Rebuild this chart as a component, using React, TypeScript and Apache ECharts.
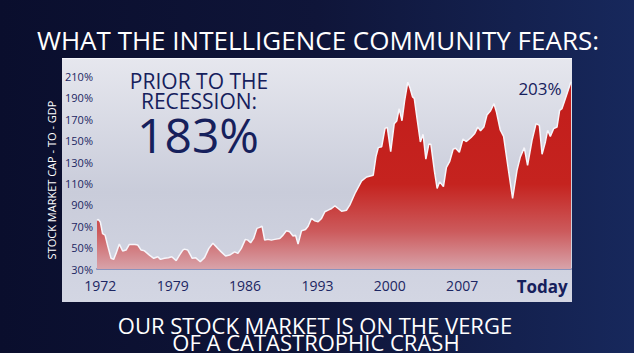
import React, { useEffect, useRef } from "react";
import * as echarts from "echarts";

const years = [
  1971.68, 1971.81, 1972.0, 1972.22, 1972.46, 1972.71, 1973.04, 1973.29, 1973.52, 1973.84,
  1974.16, 1974.49, 1974.81, 1975.36, 1975.62, 1975.95, 1976.27, 1976.75, 1977.17, 1977.56,
  1977.82, 1978.21, 1978.59, 1978.91, 1979.34, 1979.66, 1979.98, 1980.14, 1980.46, 1980.89,
  1981.21, 1981.67, 1982.08, 1982.5, 1982.89, 1983.28, 1983.7, 1984.12, 1984.51, 1984.99,
  1985.31, 1985.64, 1986.03, 1986.28, 1986.54, 1986.83, 1987.15, 1987.42, 1987.64, 1987.9,
  1988.22, 1988.55, 1988.87, 1989.36, 1989.68, 1990.0, 1990.32, 1990.64, 1990.88, 1991.13,
  1991.46, 1991.85, 1992.1, 1992.43, 1992.75, 1993.07, 1993.4, 1993.72, 1994.04, 1994.37,
  1994.69, 1995.01, 1995.34, 1995.82, 1996.14, 1996.63, 1997.28, 1997.76, 1998.4, 1998.66,
  1998.89, 1999.22, 1999.54, 1999.76, 2000.09, 2000.43, 2000.67, 2000.91, 2001.18, 2001.43,
  2001.74, 2001.96, 2002.2, 2002.37, 2002.64, 2002.96, 2003.22, 2003.49, 2003.78, 2003.98,
  2004.32, 2004.58, 2004.83, 2005.19, 2005.48, 2005.8, 2006.13, 2006.37, 2006.73, 2007.08,
  2007.41, 2007.86, 2008.22, 2008.51, 2008.78, 2009.1, 2009.4, 2009.75, 2010.08, 2010.32,
  2010.69, 2011.01, 2011.34, 2011.88, 2012.31, 2012.63, 2013.01, 2013.33, 2013.76, 2014.15,
  2014.47, 2014.73, 2015.05, 2015.27, 2015.53, 2015.85, 2016.18, 2016.43, 2016.66, 2016.98,
  2017.53,
];

const values = [
  75.7, 76.4, 74, 63, 61.7, 52, 40, 39, 44.6, 53.3,
  46.8, 47.7, 53, 53, 52.4, 47.7, 47, 43, 40, 41.5,
  39, 40, 40.6, 41.5, 37.8, 43, 47.7, 48.6, 47.7, 40,
  40.6, 36.8, 40.6, 49.3, 54, 50.2, 46, 42.1, 43, 46,
  44.6, 49.3, 57.7, 57, 54.5, 58.6, 68, 68.9, 70, 57,
  57.7, 57, 57.7, 58.6, 61.7, 65.7, 64.8, 60.8, 61.7, 53.3,
  65.7, 67, 70, 77.3, 75, 74.1, 77.3, 83.5, 85, 86.6,
  89, 86.6, 84, 85, 90, 100.6, 112.4, 116, 117.7, 134.8,
  143.5, 144.4, 161.5, 162.4, 139.8, 165.9, 168.3, 180, 168.6, 187,
  204.7, 199.3, 191, 189.6, 170.5, 148.8, 156, 132.8, 146.8, 146.6,
  121.6, 105.3, 111.5, 107, 125, 130.6, 142, 143, 139.2, 151.5,
  149.2, 153, 156.8, 162.7, 159.3, 162.7, 174, 178, 184.6, 176.7,
  160, 154, 131.7, 96, 122.4, 134.8, 143.5, 127, 150.3, 166,
  164.3, 137.3, 148.8, 159.7, 154, 161.2, 162.8, 178.3, 180, 189.2,
  205,
];

const xTickValues = [1972, 1979, 1986, 1993, 2000, 2007, 2014.75];
const yTickValues = [30, 50, 70, 90, 110, 130, 150, 170, 190, 210];

const titleText = "WHAT THE INTELLIGENCE COMMUNITY FEARS:";
const yAxisTitle = "STOCK MARKET CAP - TO - GDP";
const calloutLines = ["PRIOR TO THE", "RECESSION:"];
const calloutValue = "183%";
const latestLabel = "203%";
const bottomLines = ["OUR STOCK MARKET IS ON THE VERGE", "OF A CATASTROPHIC CRASH"];

const FONT = "'Open Sans', 'Noto Sans', sans-serif";
const NAVY = "#16205c";

export default function App() {
  const ref = useRef<HTMLDivElement>(null);

  useEffect(() => {
    document.body.style.margin = "0";
    const chart = echarts.init(ref.current!, null, { renderer: "svg" });
    const data = years.map((y, i) => [y, values[i]]);

    const centered = (x: number, y: number, text: string, font: string, fill: string) => ({
      type: "text",
      x,
      y,
      style: { text, fill, font, textAlign: "center", textVerticalAlign: "middle" },
    });

    chart.setOption({
      animation: false,
      backgroundColor: new echarts.graphic.LinearGradient(0, 0, 1, 0, [
        { offset: 0, color: "#0a0e2d" },
        { offset: 0.5, color: "#0f1539" },
        { offset: 1, color: "#17285c" },
      ]),
      grid: { left: 97, right: 63, top: 76.5, bottom: 84 },
      xAxis: {
        type: "value",
        min: years[0],
        max: years[years.length - 1],
        axisLine: { show: true, lineStyle: { color: "#8a93bd", width: 2 } },
        axisTick: { show: false },
        splitLine: { show: false },
        axisLabel: {
          customValues: xTickValues,
          margin: 9,
          color: "#1c2662",
          fontFamily: FONT,
          fontSize: 14,
          formatter: (v: number) => (v > 2010 ? "{t|Today}" : String(v)),
          rich: {
            t: { fontSize: 17, fontWeight: "bold", color: NAVY, fontFamily: FONT },
          },
        },
      },
      yAxis: {
        type: "value",
        min: 30,
        max: 210,
        axisLine: { show: false },
        axisTick: { show: false },
        splitLine: { show: false },
        axisLabel: {
          customValues: yTickValues,
          margin: 4,
          color: "#1c2662",
          fontFamily: FONT,
          fontSize: 11,
          formatter: (v: number) => v + "%",
        },
      },
      graphic: [
        {
          type: "rect",
          z: -10,
          shape: { x: 62, y: 58, width: 510, height: 244 },
          style: {
            fill: new echarts.graphic.LinearGradient(0, 0, 0, 1, [
              { offset: 0, color: "#e6e7ee" },
              { offset: 0.55, color: "#c9ccda" },
              { offset: 1, color: "#d3d6e3" },
            ]),
          },
        },
        {
          type: "line",
          shape: { x1: 62, y1: 58.5, x2: 572, y2: 58.5 },
          style: { stroke: "#f4f5fa", lineWidth: 1 },
        },
        centered(318, 40, titleText, `500 26px ${FONT}`, "#ffffff"),
        {
          type: "text",
          x: 51,
          y: 180,
          rotation: Math.PI / 2,
          style: {
            text: yAxisTitle,
            fill: "#ffffff",
            font: `400 11px ${FONT}`,
            textAlign: "center",
            textVerticalAlign: "middle",
          },
        },
        centered(199, 81, calloutLines[0], `400 21px ${FONT}`, NAVY),
        centered(199, 100.5, calloutLines[1], `400 21px ${FONT}`, NAVY),
        centered(198, 134, calloutValue, `400 48px ${FONT}`, NAVY),
        centered(540, 88, latestLabel, `400 17px ${FONT}`, NAVY),
        centered(315, 325, bottomLines[0], `500 22px ${FONT}`, "#ffffff"),
        centered(316, 342, bottomLines[1], `500 22px ${FONT}`, "#ffffff"),
      ],
      series: [
        {
          type: "line",
          data,
          showSymbol: false,
          smooth: false,
          lineStyle: { color: "#f6f6fb", width: 1.5 },
          areaStyle: {
            color: new echarts.graphic.LinearGradient(
              0,
              80,
              0,
              269,
              [
                { offset: 0, color: "#c21d1b" },
                { offset: 0.55, color: "#c5231f" },
                { offset: 0.8, color: "#cc5a5c" },
                { offset: 1, color: "#d8a3aa" },
              ],
              true
            ),
            opacity: 1,
          },
        },
      ],
    });

    return () => chart.dispose();
  }, []);

  return <div ref={ref} style={{ width: 634, height: 353 }} />;
}
